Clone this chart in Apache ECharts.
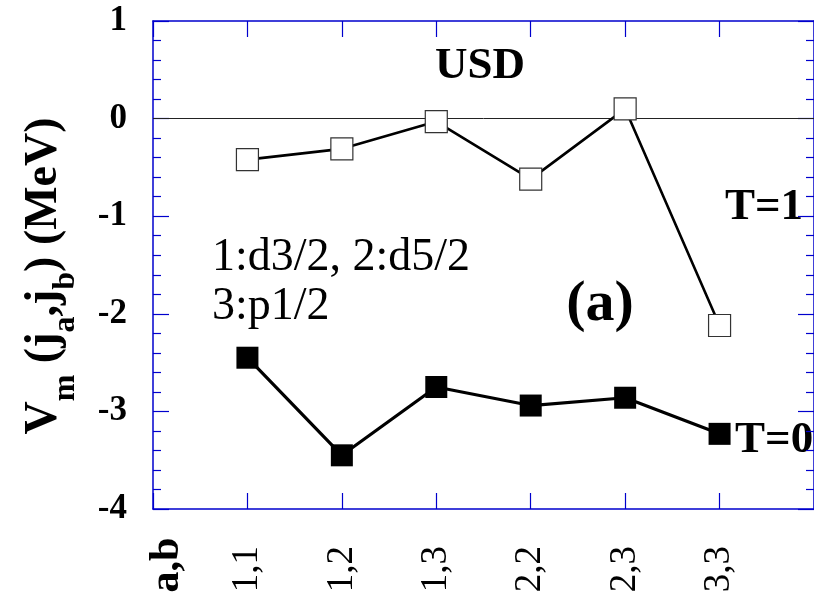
<!DOCTYPE html>
<html><head><meta charset="utf-8">
<script src="https://cdn.jsdelivr.net/npm/echarts@6/dist/echarts.min.js"></script>
<style>html,body{margin:0;padding:0;background:#fff}#c{width:814px;height:599px}</style>
</head><body><div id="c"></div>
<script>
// ---- data ----
const categories = ['1,1', '1,2', '1,3', '2,2', '2,3', '3,3'];
const t1Values = [-0.42, -0.31, -0.03, -0.62, 0.10, -2.12];
const t0Values = [-2.45, -3.45, -2.75, -2.94, -2.86, -3.23];
const yTickValues = [-4, -3, -2, -1, 0, 1];
const seriesNames = ['T=1', 'T=0'];

// ---- styles ----
const SERIF = '"Liberation Serif", "Times New Roman", serif';
const AXIS = '#0000cd';

const ctx = document.createElement('canvas').getContext('2d');
function tw(txt, font) { ctx.font = font; return ctx.measureText(txt).width; }

const mainFont = 'bold 46px ' + SERIF;
const subFont = 'bold 32px ' + SERIF;
const titlePieces = [['V', 0], ['m', 1], [' (j', 0], ['a', 1], [',j', 0], ['b', 1], [') (MeV)', 0]];
let total = 0;
titlePieces.forEach(p => { total += tw(p[0], p[1] ? subFont : mainFont); });
let cur = -total / 2;
const titleChildren = titlePieces.map(p => {
  const f = p[1] ? subFont : mainFont;
  const el = { type: 'text', x: cur, y: p[1] ? 22 : 0,
    style: { text: p[0], font: f, fill: '#000', textAlign: 'left', textVerticalAlign: 'middle' } };
  cur += tw(p[0], f);
  return el;
});

const chart = echarts.init(document.getElementById('c'), null, { renderer: 'canvas' });

function xAxisDef(pos, showLabel) {
  return {
    type: 'value', position: pos, min: 0, max: 7, interval: 1,
    axisLine: { show: true, onZero: false, lineStyle: { color: AXIS, width: 1.5 } },
    axisTick: { show: true, inside: true, length: 16, lineStyle: { color: AXIS, width: 1.2 } },
    splitLine: { show: false },
    axisLabel: {
      show: showLabel, rotate: 90, margin: 37, color: '#000',
      fontFamily: SERIF, fontSize: 37, fontWeight: 'normal',
      formatter: v => categories[v - 1] || ''
    }
  };
}
function yAxisDef(pos, showLabel) {
  return {
    type: 'value', position: pos, min: yTickValues[0], max: yTickValues[yTickValues.length - 1], interval: 1,
    axisLine: { show: true, onZero: false, lineStyle: { color: AXIS, width: 1.5 } },
    axisTick: { show: true, inside: true, length: 16, lineStyle: { color: AXIS, width: 1.2 } },
    minorTick: { show: true, splitNumber: 5, length: 8, lineStyle: { color: AXIS, width: 1.2 } },
    splitLine: { show: false },
    axisLabel: {
      show: showLabel, margin: 26, color: '#000',
      fontFamily: SERIF, fontSize: 35, fontWeight: 'bold'
    }
  };
}

chart.setOption({
  animation: false,
  backgroundColor: '#fff',
  grid: { left: 153, right: 0, top: 21, bottom: 90, containLabel: false },
  xAxis: [xAxisDef('bottom', true), xAxisDef('top', false)],
  yAxis: [yAxisDef('left', true), yAxisDef('right', false)],
  series: [
    {
      name: seriesNames[0], type: 'line', xAxisIndex: 0, yAxisIndex: 0,
      data: t1Values.map((v, i) => [i + 1, v]),
      symbol: 'rect', symbolSize: 22,
      itemStyle: { color: '#fff', borderColor: '#333', borderWidth: 1.2 },
      lineStyle: { color: '#000', width: 2.6 },
      z: 3,
      markLine: {
        silent: true, symbol: 'none', z: 1,
        label: { show: false },
        lineStyle: { color: '#222', width: 1, type: 'solid' },
        data: [{ yAxis: 0 }]
      }
    },
    {
      name: seriesNames[1], type: 'line', xAxisIndex: 0, yAxisIndex: 0,
      data: t0Values.map((v, i) => [i + 1, v]),
      symbol: 'rect', symbolSize: 22,
      itemStyle: { color: '#000' },
      lineStyle: { color: '#000', width: 3.2 },
      z: 3
    }
  ],
  graphic: [
    { type: 'text', x: 480, y: 66, style: { text: 'USD', font: 'bold 45px ' + SERIF, fill: '#000', textAlign: 'center', textVerticalAlign: 'middle' } },
    { type: 'text', x: 764, y: 207, style: { text: seriesNames[0], font: 'bold 45px ' + SERIF, fill: '#000', textAlign: 'center', textVerticalAlign: 'middle' } },
    { type: 'text', x: 735, y: 440, style: { text: seriesNames[1], font: 'bold 45px ' + SERIF, fill: '#000', textAlign: 'left', textVerticalAlign: 'middle' } },
    { type: 'text', x: 600, y: 305, style: { text: '(a)', font: 'bold 58px ' + SERIF, fill: '#000', textAlign: 'center', textVerticalAlign: 'middle' } },
    { type: 'text', x: 212, y: 258, style: { text: '1:d3/2, 2:d5/2', font: '46px ' + SERIF, fill: '#000', textAlign: 'left', textVerticalAlign: 'middle' } },
    { type: 'text', x: 212, y: 307, style: { text: '3:p1/2', font: '46px ' + SERIF, fill: '#000', textAlign: 'left', textVerticalAlign: 'middle' } },
    { type: 'text', x: 167, y: 565, rotation: Math.PI / 2, style: { text: 'a,b', font: 'bold 42px ' + SERIF, fill: '#000', textAlign: 'center', textVerticalAlign: 'middle' } },
    { type: 'group', x: 44, y: 276, rotation: Math.PI / 2, children: titleChildren }
  ]
});
</script>
</body></html>
